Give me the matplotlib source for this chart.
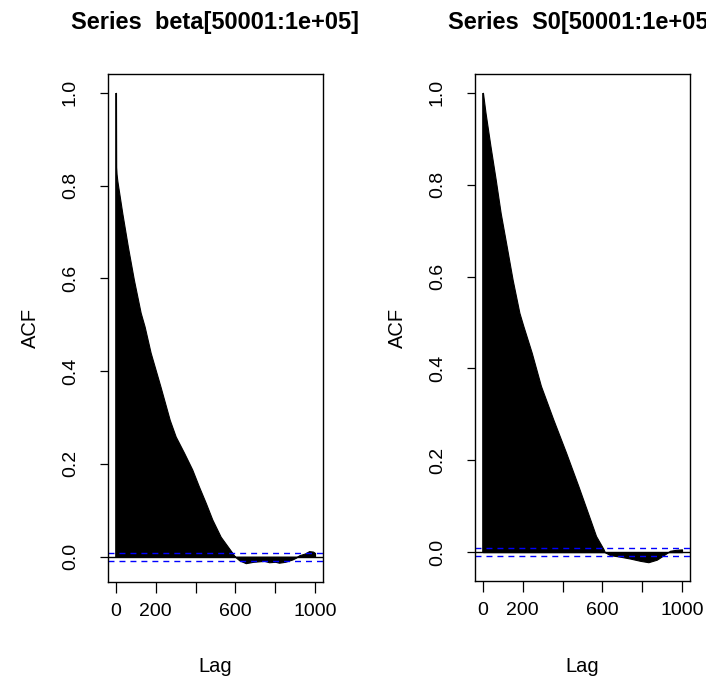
import numpy as np
import matplotlib
matplotlib.use("Agg")
import matplotlib.pyplot as plt

plt.rcParams['font.family'] = ['Liberation Sans', 'DejaVu Sans']

# ---- data (ACF of two MCMC chains) ----
titles = ["Series  beta[50001:1e+05]", "Series  S0[50001:1e+05]"]

lags_beta = [0, 1, 3, 7, 32, 60, 90, 124, 144, 174, 224, 270, 300, 342, 383,
             417, 451, 484, 526, 585, 598, 620, 652, 690, 719, 745, 769, 800,
             819, 850, 886, 905, 920, 950, 970, 990, 1000]
acf_beta = [1.0, 0.84, 0.825, 0.81, 0.74, 0.668, 0.597, 0.526, 0.496, 0.44,
            0.366, 0.295, 0.259, 0.224, 0.188, 0.151, 0.116, 0.08, 0.043,
            0.008, 0.0, -0.008, -0.014, -0.011, -0.010, -0.009, -0.012,
            -0.011, -0.013, -0.011, -0.006, -0.002, 0.003, 0.007, 0.012,
            0.011, 0.008]

lags_s0 = [0, 13, 38, 64, 89, 119, 149, 183, 203, 245, 291, 353, 417, 479,
           538, 568, 605, 612, 638, 690, 739, 790, 831, 873, 910, 940, 970,
           1000]
acf_s0 = [1.0, 0.956, 0.883, 0.811, 0.738, 0.666, 0.593, 0.521, 0.492, 0.434,
          0.362, 0.289, 0.217, 0.144, 0.072, 0.035, 0.007, 0.0, -0.0065,
          -0.010, -0.014, -0.019, -0.022, -0.0165, -0.006, 0.003, 0.005, 0.006]

n_obs = 50000
xticks = [0, 200, 400, 600, 800, 1000]
xticklabels = ["0", "200", "", "600", "", "1000"]
yticks = [0.0, 0.2, 0.4, 0.6, 0.8, 1.0]
yticklabels = ["0.0", "0.2", "0.4", "0.6", "0.8", "1.0"]

W, H = 706, 682
fig = plt.figure(figsize=(W / 100, H / 100), dpi=100)

boxes = [(108, 74, 323, 582), (475, 74, 690, 581)]
series = [(lags_beta, acf_beta), (lags_s0, acf_s0)]
clim = 1.96 / np.sqrt(n_obs)

for (x0, y0, x1, y1), (lags, acf), title in zip(boxes, series, titles):
    ax = fig.add_axes([x0 / W, 1 - y1 / H, (x1 - x0) / W, (y1 - y0) / H])
    lags = np.asarray(lags, float)
    acf = np.asarray(acf, float)
    ax.fill_between(lags, 0, acf, color="black", linewidth=0.8,
                    edgecolor="black")
    ax.vlines([lags[0]], 0, [acf[0]], color="black", linewidth=1.2)
    ax.axhline(0, color="black", linewidth=1.0)
    for c in (clim, -clim):
        ax.axhline(c, color="#0000FF", linewidth=1.0, linestyle=(0, (4.3, 3.6)))
    # R-style 4% padding
    xmin, xmax = 0, 1000
    xr = xmax - xmin
    ax.set_xlim(xmin - 0.04 * xr, xmax + 0.04 * xr)
    ymin = min(acf.min(), -clim)
    ymax = max(acf.max(), clim)
    yr = ymax - ymin
    ax.set_ylim(ymin - 0.04 * yr, ymax + 0.04 * yr)

    ax.set_xticks(xticks)
    ax.set_xticklabels(xticklabels)
    ax.set_yticks(yticks)
    ax.set_yticklabels(yticklabels, rotation=90, va="center")
    ax.tick_params(axis="x", length=8, width=0.9, pad=7, labelsize=14)
    ax.tick_params(axis="y", length=6, width=0.9, pad=15, labelsize=14)
    for s in ax.spines.values():
        s.set_linewidth(1.0)
        s.set_color("black")

    cx = (x0 + x1) / 2 / W
    fig.text(cx, 1 - 23 / H, title, ha="center", va="center",
             fontsize=17, fontweight="bold")
    fig.text(cx, 1 - 666 / H, "Lag", ha="center", va="center", fontsize=14.5)
    fig.text((x0 - 78) / W, 1 - ((y0 + y1) / 2) / H, "ACF", ha="center",
             va="center", rotation=90, fontsize=14.5)

fig.savefig("out.png", dpi=100)
